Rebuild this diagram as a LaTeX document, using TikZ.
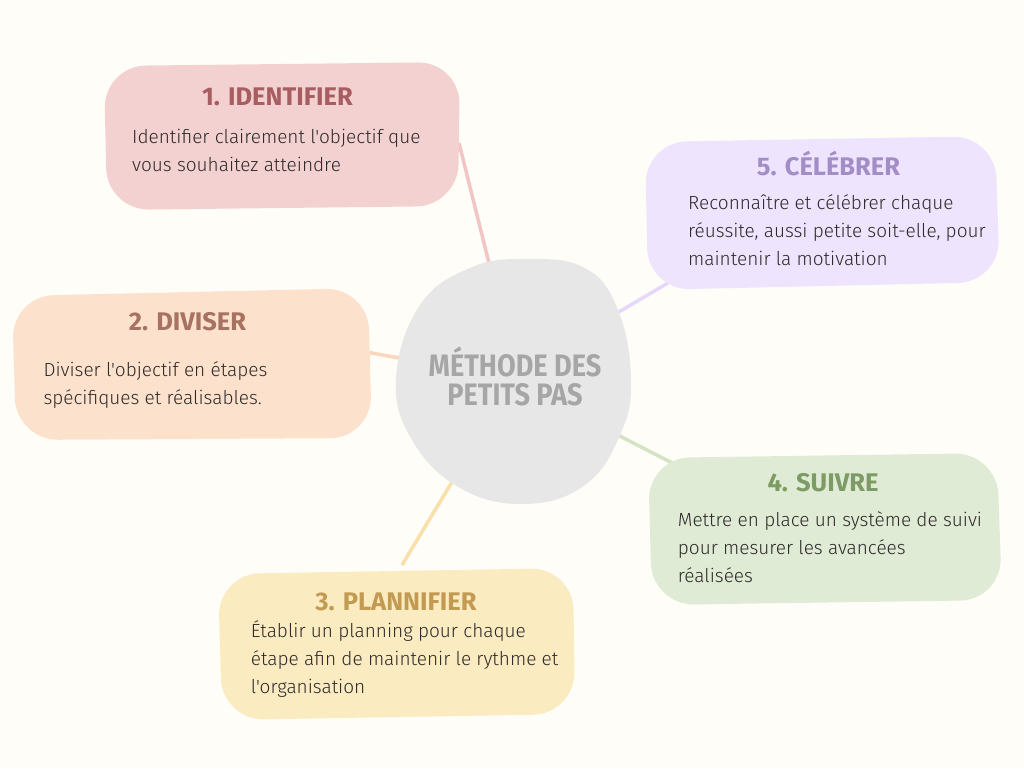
\documentclass[tikz,border=0pt]{standalone}
\usepackage{fontspec}
\setmainfont{Fira Sans Light}[Ligatures=TeXOff]
\newfontfamily\headfont{Fira Sans Bold}
\newfontfamily\centfont{Fira Sans Bold}[FakeStretch=0.875]
\definecolor{bg}{HTML}{FFFDF7}
\definecolor{blobc}{HTML}{E7E7E8}
\definecolor{blobt}{HTML}{A6A6A6}
\definecolor{bodyc}{HTML}{2E2A2A}
\definecolor{f1}{HTML}{F4D1D1}\definecolor{t1c}{HTML}{A65E60}\definecolor{l1}{HTML}{F2C4C4}
\definecolor{f2}{HTML}{FCE2CC}\definecolor{t2c}{HTML}{A87262}\definecolor{l2}{HTML}{FAD6BC}
\definecolor{f3}{HTML}{FBEBC1}\definecolor{t3c}{HTML}{C39A52}\definecolor{l3}{HTML}{F8E0A8}
\definecolor{f4}{HTML}{DFEBD4}\definecolor{t4c}{HTML}{7C9B65}\definecolor{l4}{HTML}{D3E4C4}
\definecolor{f5}{HTML}{EFE4FD}\definecolor{t5c}{HTML}{A28DC6}\definecolor{l5}{HTML}{E6D8FC}
\begin{document}
\begin{tikzpicture}[x=1pt,y=-1pt,
  boxshape/.style={rounded corners=42pt},
  conn/.style={line width=3.5pt},
  head/.style={font=\headfont\fontsize{25.5}{30}\selectfont, anchor=base, inner sep=0pt},
  body/.style={font=\fontsize{19}{28}\selectfont, align=left, anchor=base west, inner sep=0pt, text=bodyc},
  centertext/.style={font=\centfont\fontsize{31}{29}\selectfont, align=center, anchor=base, inner sep=0pt, text=blobt}]
\useasboundingbox[fill=bg] (0,0) rectangle (1024,768);
% connector end points
\coordinate (p1) at (459,143); \coordinate (q1) at (492,275);
\coordinate (p2) at (366,352); \coordinate (q2) at (405,359);
\coordinate (p3) at (402,565); \coordinate (q3) at (455,477);
\coordinate (p4) at (680,467); \coordinate (q4) at (612,432);
\coordinate (p5) at (678,277); \coordinate (q5) at (612,316);
\draw[conn,l1] (p1) -- (q1);
\draw[conn,l2] (p2) -- (q2);
\draw[conn,l3] (p3) -- (q3);
\draw[conn,l4] (p4) -- (q4);
\draw[conn,l5] (p5) -- (q5);
% boxes
\fill[f1,boxshape] (104,66) -- (460,62) -- (458,206) -- (107,210) -- cycle;
\fill[f2,boxshape] (12,296) -- (368,288) -- (372,438) -- (16,440) -- cycle;
\fill[f3,boxshape] (218,574) -- (573,568) -- (575,714) -- (222,720) -- cycle;
\fill[f4,boxshape] (648,458) -- (997,453) -- (1002,600) -- (652,605) -- cycle;
\fill[f5,boxshape] (645,142) -- (995,136) -- (1000,282) -- (648,290) -- cycle;
% central blob
\fill[blobc] plot[smooth cycle, tension=0.7] coordinates {(525,259) (585,268) (618,310) (631,380) (620,435) (585,485) (525,504) (460,488) (412,440) (396,378) (420,305) (470,268)};
\node[centertext] (ct) at (515,405) {MÉTHODE DES\\PETITS PAS};
% titles
\node[head,text=t1c] (h1) at (277.5,105) {1. IDENTIFIER};
\node[head,text=t2c] (h2) at (187.5,330.7) {2. DIVISER};
\node[head,text=t3c] (h3) at (396,610) {3. PLANNIFIER};
\node[head,text=t4c] (h4) at (823,491.7) {4. SUIVRE};
\node[head,text=t5c] (h5) at (828.5,175) {5. CÉLÉBRER};
% bodies (anchored at the baseline of the last line)
\node[body] (b1) at (132,171) {Identifier clairement l'objectif que\\vous souhaitez atteindre};
\node[body] (b2) at (43.3,404) {Diviser l'objectif en étapes\\spécifiques et réalisables.};
\node[body] (b3) at (250.7,693) {Établir un planning pour chaque\\étape afin de maintenir le rythme et\\l'organisation};
\node[body] (b4) at (677.7,582.7) {Mettre en place un système de suivi\\pour mesurer les avancées\\réalisées};
\node[body] (b5) at (688,265) {Reconnaître et célébrer chaque\\réussite, aussi petite soit-elle, pour\\maintenir la motivation};
\end{tikzpicture}
\end{document}
